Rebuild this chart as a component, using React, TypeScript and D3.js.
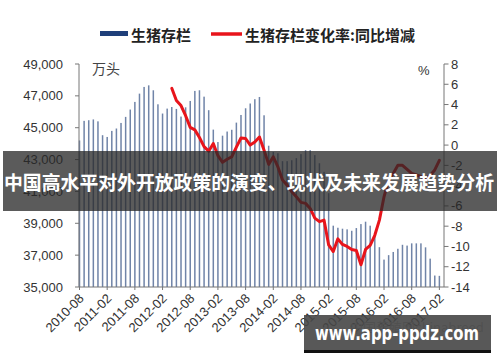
import React from "react";
import * as d3 from "d3";

const W = 500;
const H = 362;

// categories: monthly, 2010-08 .. 2017-02
const categories: string[] = d3
  .timeMonth.range(new Date(2010, 7, 1), new Date(2017, 2, 2))
  .map((d) => d3.timeFormat("%Y-%m")(d));

const xTickLabels = [
  "2010-08", "2011-02", "2011-08", "2012-02", "2012-08", "2013-02", "2013-08",
  "2014-02", "2014-08", "2015-02", "2015-08", "2016-02", "2016-08", "2017-02",
];

// 生猪存栏 (万头)
const inventory = [
  44200, 45430, 45470, 45520, 45400, 44530, 44420, 44800, 44950, 45300,
  45680, 46140, 46620, 47140, 47560, 47660, 47350, 46470, 45890, 46200,
  46300, 46180, 45700, 46280, 46680, 47310, 47350, 46950, 46100, 44880,
  44100, 44500, 44760, 44870, 45320, 45800, 46220, 46520, 46790, 46930,
  45780, 43870, 43480, 43400, 42900, 42900, 42960, 43090, 43340, 43590,
  43590, 43280, 42770, 42230, 40890, 38850, 38720, 38660, 38620, 38530,
  38700, 38950, 39100, 38850, 38400, 37500, 36720, 37000, 37200, 37400,
  37650, 37600, 37740, 37740, 37740, 37490, 36780, 35720, 35700,
];

// 生猪存栏变化率:同比增减 (%), starts at 2012-04
const changeStart = 20;
const changeRate = [
  5.6, 4.4, 3.9, 2.9, 1.75, 1.5, 0.75, -0.15, -0.6, 0.15,
  -1.05, -1.7, -1.4, -1.15, -0.2, 0.7, 0.65, 0.0, 0.3, 0.8,
  -0.5, -1.9, -1.15, -2.15, -3.45, -3.95, -4.6, -5.1, -5.65, -5.75,
  -6.25, -7.2, -7.55, -7.4, -9.85, -10.5, -9.25, -9.8, -10.0, -10.3,
  -10.4, -11.8, -10.3, -9.9, -8.9, -7.4, -5.1, -3.45, -2.8, -2.0,
  -2.0, -2.4, -2.8, -2.95, -3.1, -3.3, -3.0, -2.45, -1.5,
];

const leftTicks = [35000, 37000, 39000, 41000, 43000, 45000, 47000, 49000];
const rightTicks = [8, 6, 4, 2, 0, -2, -4, -6, -8, -10, -12, -14];

const legendLabels = ["生猪存栏", "生猪存栏变化率:同比增减"];
const unitLeft = "万头";
const unitRight = "%";
const bannerText = "中国高水平对外开放政策的演变、现状及未来发展趋势分析";
const siteText = "www.app-ppdz.com";
const watermarkText = "中国养殖网chinabreed";

export default function App() {
  const x = d3.scalePoint<string>().domain(categories).range([79.5, 444]);
  const yL = d3.scaleLinear().domain([35000, 49000]).range([287, 64]);
  const yR = d3.scaleLinear().domain([-14, 8]).range([287, 64]);
  const fmt = d3.format(",");

  const lineData = changeRate.map((v, i) => ({ c: categories[changeStart + i], v }));
  const line = d3
    .line<{ c: string; v: number }>()
    .x((d) => x(d.c) as number)
    .y((d) => yR(d.v))
    .curve(d3.curveLinear);

  const axisFont = "'Liberation Sans', Arial, sans-serif";
  const cjk = "'Noto Sans CJK SC', sans-serif";
  const base = yL(35000);

  return (
    <div style={{ position: "absolute", left: 0, top: 0 }}>
      <svg width={W} height={H} style={{ display: "block", background: "#fff" }}>
        {/* legend */}
        <rect x={100} y={31} width={28} height={5} fill="#1f3f7a" />
        <text x={131} y={34} dominantBaseline="central" fontFamily={cjk} fontWeight="bold" fontSize={15} fill="#222">
          {legendLabels[0]}
        </text>
        <line x1={211} x2={242} y1={34} y2={34} stroke="#e8141b" strokeWidth={3.5} />
        <text x={245} y={34} dominantBaseline="central" fontFamily={cjk} fontWeight="bold" fontSize={15} fill="#222">
          {legendLabels[1]}
        </text>

        {/* units */}
        <text x={92} y={68} dominantBaseline="central" fontFamily={cjk} fontSize={14} fill="#444">{unitLeft}</text>
        <text x={418} y={70} dominantBaseline="central" fontFamily={axisFont} fontSize={13} fill="#333">{unitRight}</text>

        {/* bars */}
        {inventory.map((v, i) => (
          <rect
            key={i}
            x={(x(categories[i]) as number) - 0.75}
            y={yL(v)}
            width={1.5}
            height={base - yL(v)}
            fill="#7084a8"
          />
        ))}

        {/* left axis */}
        <line x1={79} x2={79} y1={64} y2={287} stroke="#777" strokeWidth={1} />
        {leftTicks.map((t) => (
          <g key={t}>
            <line x1={75} x2={79} y1={yL(t)} y2={yL(t)} stroke="#777" />
            <text x={63} y={yL(t)} dominantBaseline="central" textAnchor="end" fontFamily={axisFont} fontSize={13} fill="#333">
              {fmt(t)}
            </text>
          </g>
        ))}

        {/* right axis */}
        <line x1={444} x2={444} y1={64} y2={287} stroke="#777" strokeWidth={1} />
        {rightTicks.map((t) => (
          <g key={t}>
            <line x1={444} x2={448.5} y1={yR(t)} y2={yR(t)} stroke="#777" />
            <text x={451} y={yR(t)} dominantBaseline="central" fontFamily={axisFont} fontSize={13} fill="#333">
              {t}
            </text>
          </g>
        ))}

        {/* x axis */}
        <line x1={79} x2={444} y1={287} y2={287} stroke="#777" />
        {xTickLabels.map((lab) => {
          const px = x(lab) as number;
          return (
            <g key={lab}>
              <line x1={px} x2={px} y1={287} y2={290} stroke="#777" />
              <text
                transform={`translate(${px + 2},${296}) rotate(-45)`}
                textAnchor="end"
                dominantBaseline="central"
                fontFamily={axisFont}
                fontSize={13}
                fill="#333"
              >
                {lab}
              </text>
            </g>
          );
        })}

        {/* change rate line */}
        <path d={line(lineData) || ""} fill="none" stroke="#e8141b" strokeWidth={3} strokeLinejoin="round" strokeLinecap="round" />

        {/* watermark */}
        <text x={350} y={326} dominantBaseline="central" fontFamily={cjk} fontSize={13} fill="#aaa">{watermarkText}</text>

        {/* title banner */}
        <rect x={3} y={151} width={494} height={60} fill="rgb(40,40,40)" fillOpacity={0.76} />
        <text
          x={4}
          y={181.5}
          dominantBaseline="central"
          fontFamily={cjk}
          fontWeight="bold"
          fontSize={19.5}
          fill="#fff"
          textLength={490}
          lengthAdjust="spacingAndGlyphs"
        >
          {bannerText}
        </text>

        {/* site box */}
        <rect x={304} y={315} width={187} height={35} fill="rgb(70,70,70)" fillOpacity={0.9} />
        <rect x={304} y={350} width={187} height={3} fill="#111" />
        <text
          x={315}
          y={332.5}
          dominantBaseline="central"
          fontFamily="'DejaVu Sans', sans-serif"
          fontWeight="bold"
          fontSize={19}
          fill="#fff"
          textLength={164}
          lengthAdjust="spacingAndGlyphs"
        >
          {siteText}
        </text>
      </svg>
    </div>
  );
}
